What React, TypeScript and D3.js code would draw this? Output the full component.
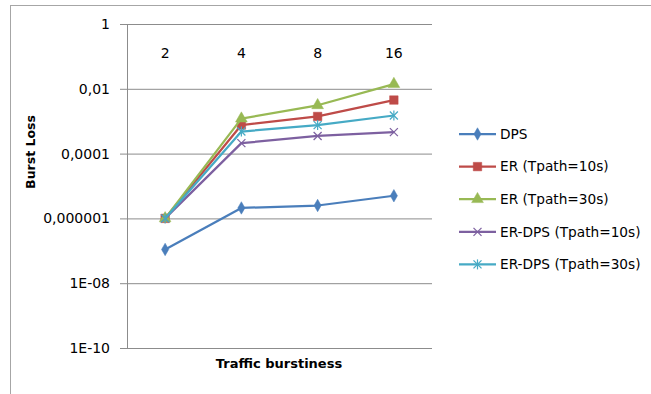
import { scaleBand, scaleLog, line, symbol, symbolDiamond, symbolSquare, symbolTriangle } from "d3";

const categories = ["2", "4", "8", "16"];
const yTicks = [1, 1e-2, 1e-4, 1e-6, 1e-8, 1e-10];
const yTickLabels = ["1", "0,01", "0,0001", "0,000001", "1E-08", "1E-10"];

const dps = [1.1e-7, 2.1e-6, 2.5e-6, 5e-6];
const er10 = [1e-6, 7.6e-4, 1.4e-3, 4.5e-3];
const er30 = [1e-6, 1.2e-3, 3.1e-3, 1.4e-2];
const erDps10 = [1e-6, 2.1e-4, 3.5e-4, 4.6e-4];
const erDps30 = [1e-6, 4.8e-4, 7.6e-4, 1.5e-3];

const seriesNames = ["DPS", "ER (Tpath=10s)", "ER (Tpath=30s)", "ER-DPS (Tpath=10s)", "ER-DPS (Tpath=30s)"];
const seriesValues = [dps, er10, er30, erDps10, erDps30];
const seriesColors = ["#4a7ebb", "#be4b48", "#98b954", "#7d60a0", "#46aac5"];
const seriesMarkers = ["diamond", "square", "triangle", "x", "star"];

const W = 651;
const H = 394;
const plot = { left: 127, right: 432, top: 24, bottom: 348 };
const font = "'DejaVu Sans', sans-serif";

function Marker({ kind, x, y, color }: { kind: string; x: number; y: number; color: string }) {
    if (kind === "x" || kind === "star") {
        const r = 4;
        return (
            <g transform={`translate(${x},${y})`} stroke={color} strokeWidth={1.2} fill="none">
                <line x1={-r} y1={-r} x2={r} y2={r} />
                <line x1={-r} y1={r} x2={r} y2={-r} />
                {kind === "star" && <line x1={0} y1={-r - 1} x2={0} y2={r + 1} />}
            </g>
        );
    }
    const type = kind === "diamond" ? symbolDiamond : kind === "square" ? symbolSquare : symbolTriangle;
    const size = kind === "diamond" ? 45 : kind === "square" ? 72 : 60;
    return (
        <path
            d={symbol(type, size)() ?? ""}
            transform={`translate(${x},${y})`}
            fill={color}
            stroke={color}
            strokeWidth={0.5}
        />
    );
}

export default function App() {
    const x = scaleBand().domain(categories).range([plot.left, plot.right]);
    const y = scaleLog().domain([1e-10, 1]).range([plot.bottom, plot.top]);
    const cx = (c: string) => (x(c) ?? 0) + x.bandwidth() / 2;

    const path = line<number>()
        .x((_, i) => cx(categories[i]))
        .y((d) => y(d));

    const legendX = 459;
    const legendY0 = 134;
    const legendStep = 32.6;
    const tickFs = 14;
    const legendFs = 13.7;

    return (
        <svg
            width={W}
            height={H}
            style={{ position: "absolute", left: 0, top: 0, background: "#fff" }}
            fontFamily={font}
        >
            {/* outer chart frame (only top/left visible) */}
            <rect x={10.5} y={5.5} width={W + 20} height={H + 20} fill="none" stroke="#a6a6a6" strokeWidth={1} />

            {/* gridlines + ticks */}
            {yTicks.map((t, i) => (
                <g key={i}>
                    <line x1={plot.left - 7} x2={plot.right} y1={y(t) + 0.5} y2={y(t) + 0.5} stroke="#8c8c8c" strokeWidth={1} />
                    <text x={110} y={y(t)} dy="0.35em" textAnchor="end" fontSize={tickFs} fill="#000">
                        {yTickLabels[i]}
                    </text>
                </g>
            ))}
            <line x1={plot.left + 0.5} x2={plot.left + 0.5} y1={plot.top} y2={plot.bottom} stroke="#8c8c8c" strokeWidth={1} />

            {/* category labels (axis crosses at top) */}
            {categories.map((c) => (
                <text key={c} x={cx(c)} y={53} dy="0.35em" textAnchor="middle" fontSize={tickFs} fill="#000">
                    {c}
                </text>
            ))}

            {/* series */}
            {seriesValues.map((vals, si) => (
                <g key={si}>
                    <path d={path(vals) ?? ""} fill="none" stroke={seriesColors[si]} strokeWidth={2.25} strokeLinejoin="round" />
                    {vals.map((v, i) => (
                        <Marker key={i} kind={seriesMarkers[si]} x={cx(categories[i])} y={y(v)} color={seriesColors[si]} />
                    ))}
                </g>
            ))}

            {/* axis titles */}
            <text
                transform={`translate(31,${(plot.top + plot.bottom) / 2 - 34}) rotate(-90)`}
                textAnchor="middle"
                dy="0.35em"
                fontSize={12.5}
                fontWeight="bold"
            >
                Burst Loss
            </text>
            <text x={279} y={363} dy="0.35em" textAnchor="middle" fontSize={13} fontWeight="bold">
                Traffic burstiness
            </text>

            {/* legend */}
            {seriesNames.map((name, i) => {
                const ly = legendY0 + i * legendStep;
                return (
                    <g key={name}>
                        <line x1={legendX} x2={legendX + 37} y1={ly} y2={ly} stroke={seriesColors[i]} strokeWidth={2.25} />
                        <Marker kind={seriesMarkers[i]} x={legendX + 18.5} y={ly} color={seriesColors[i]} />
                        <text x={legendX + 41} y={ly} dy="0.35em" fontSize={legendFs} fill="#000">
                            {name}
                        </text>
                    </g>
                );
            })}
        </svg>
    );
}
